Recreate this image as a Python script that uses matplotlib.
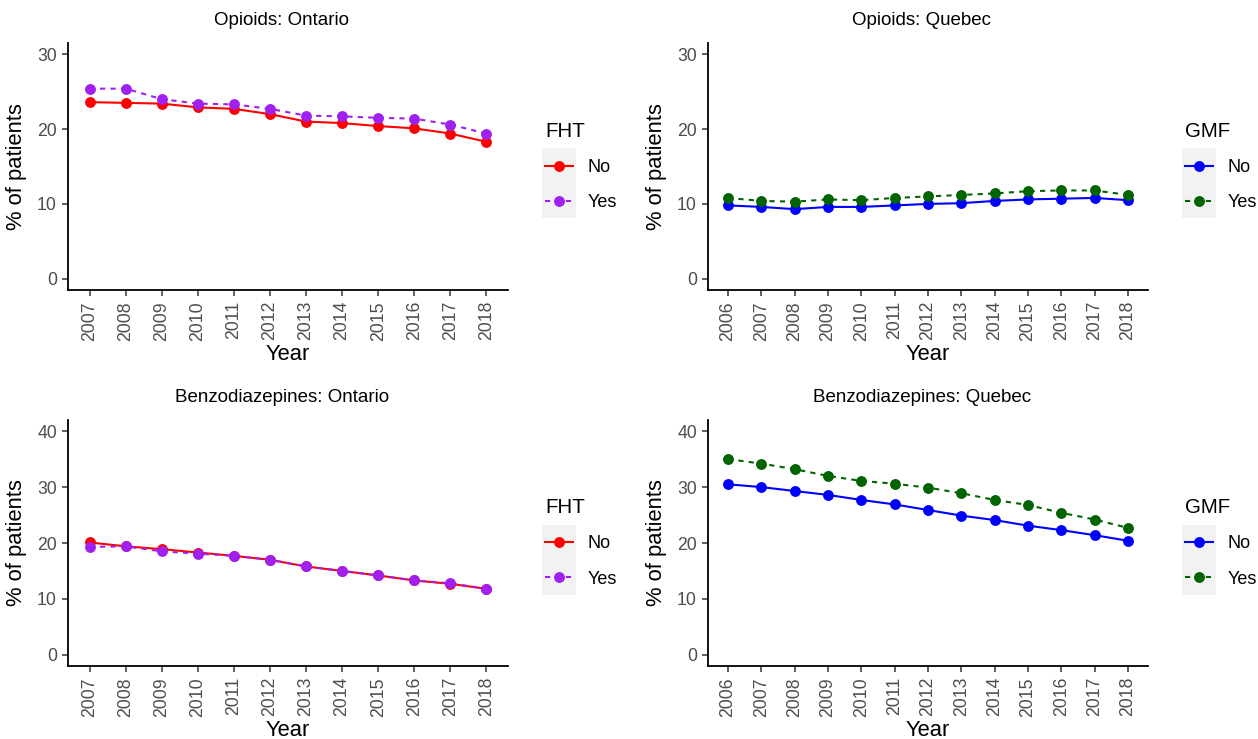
import matplotlib
matplotlib.use('Agg')
import matplotlib.pyplot as plt
from matplotlib.patches import Rectangle
from matplotlib.transforms import Bbox

plt.rcParams['font.family'] = ['Liberation Sans', 'DejaVu Sans']

# ---- data ----
years_on = [2007, 2008, 2009, 2010, 2011, 2012, 2013, 2014, 2015, 2016, 2017, 2018]
years_qc = [2006, 2007, 2008, 2009, 2010, 2011, 2012, 2013, 2014, 2015, 2016, 2017, 2018]

opi_on_no = [23.6, 23.5, 23.4, 22.9, 22.7, 22.0, 21.0, 20.8, 20.4, 20.1, 19.4, 18.3]
opi_on_yes = [25.4, 25.4, 24.0, 23.4, 23.3, 22.7, 21.8, 21.7, 21.5, 21.4, 20.6, 19.4]

opi_qc_no = [9.8, 9.6, 9.3, 9.6, 9.6, 9.8, 10.0, 10.1, 10.4, 10.6, 10.7, 10.8, 10.5]
opi_qc_yes = [10.8, 10.4, 10.3, 10.6, 10.5, 10.8, 11.0, 11.2, 11.4, 11.7, 11.8, 11.8, 11.2]

benzo_on_no = [20.1, 19.4, 18.9, 18.3, 17.7, 17.0, 15.8, 15.0, 14.2, 13.3, 12.7, 11.8]
benzo_on_yes = [19.3, 19.4, 18.5, 18.1, 17.7, 17.0, 15.8, 15.0, 14.2, 13.3, 12.8, 11.8]

benzo_qc_no = [30.5, 30.0, 29.3, 28.6, 27.7, 26.9, 25.9, 24.9, 24.1, 23.1, 22.3, 21.4, 20.4]
benzo_qc_yes = [35.0, 34.2, 33.2, 32.0, 31.1, 30.6, 29.9, 28.9, 27.7, 26.8, 25.4, 24.2, 22.7]

panels = [
    ('Opioids: Ontario', years_on, opi_on_no, opi_on_yes, 'FHT', 'red', '#A020F0', [0, 10, 20, 30], (-1.5, 31.5)),
    ('Opioids: Quebec', years_qc, opi_qc_no, opi_qc_yes, 'GMF', 'blue', '#006400', [0, 10, 20, 30], (-1.5, 31.5)),
    ('Benzodiazepines: Ontario', years_on, benzo_on_no, benzo_on_yes, 'FHT', 'red', '#A020F0', [0, 10, 20, 30, 40], (-2.0, 42.0)),
    ('Benzodiazepines: Quebec', years_qc, benzo_qc_no, benzo_qc_yes, 'GMF', 'blue', '#006400', [0, 10, 20, 30, 40], (-2.0, 42.0)),
]

W, H = 1258, 739
fig = plt.figure(figsize=(W / 100, H / 100), dpi=100)
fig.patch.set_facecolor('white')

# axes boxes in pixels: left, right, top, bottom
boxes = [(68, 508, 43, 290), (708, 1148, 43, 290),
         (68, 508, 420, 666), (708, 1148, 420, 666)]

legends = []
for (title, yrs, no, yes, legtitle, c_no, c_yes, yt, ylim), (l, r, t, b) in zip(panels, boxes):
    ax = fig.add_axes([l / W, 1 - b / H, (r - l) / W, (b - t) / H])
    ax.set_facecolor('none')
    ax.plot(yrs, no, color=c_no, lw=1.5, marker='o', ms=6.8, label='No')
    ax.plot(yrs, yes, color=c_yes, lw=1.5, marker='o', ms=6.8, ls=(0, (2.5, 2.5)), label='Yes')
    ax.set_xlim(yrs[0] - 0.6, yrs[-1] + 0.6)
    ax.set_ylim(*ylim)
    ax.set_xticks(yrs)
    ax.set_xticklabels([str(y) for y in yrs], rotation=90)
    ax.set_yticks(yt)
    ax.tick_params(colors='#333333', labelcolor='#4D4D4D', labelsize=12.7, length=4, width=1.1, pad=4)
    for s in ['top', 'right']:
        ax.spines[s].set_visible(False)
    for s in ['left', 'bottom']:
        ax.spines[s].set_linewidth(1.3)
    # ggplot centres the title over the whole panel, slightly left of the plot area
    ax.set_title(title, fontsize=13.5, pad=13, x=0.486)
    ax.set_xlabel('Year', fontsize=15.8, labelpad=2)
    ax.set_ylabel('% of patients', fontsize=15.8, labelpad=7)
    leg = ax.legend(title=legtitle, loc='center left', bbox_to_anchor=(1.085, 0.5),
                    frameon=False, fontsize=13, title_fontsize=14.8, alignment='left',
                    handlelength=1.55, handletextpad=0.8, labelspacing=1.0,
                    borderaxespad=0, borderpad=0)
    legends.append(leg)

# grey key background like ggplot legend keys
fig.canvas.draw()
renderer = fig.canvas.get_renderer()
for leg in legends:
    exts = []
    for col in leg._legend_handle_box.get_children():
        for row in col.get_children():
            exts.append(row.get_children()[0].get_window_extent(renderer))
    bb = Bbox.union(exts)
    cy0 = exts[-1].y0 + exts[-1].height / 2
    cy1 = exts[0].y0 + exts[0].height / 2
    rect = Rectangle((bb.x0 - 3, cy0 - 17.5), bb.width + 6, (cy1 - cy0) + 35,
                     transform=None, facecolor='#F2F2F2', edgecolor='none', zorder=-1)
    fig.patches.append(rect)

fig.savefig('out.png', dpi=100)
